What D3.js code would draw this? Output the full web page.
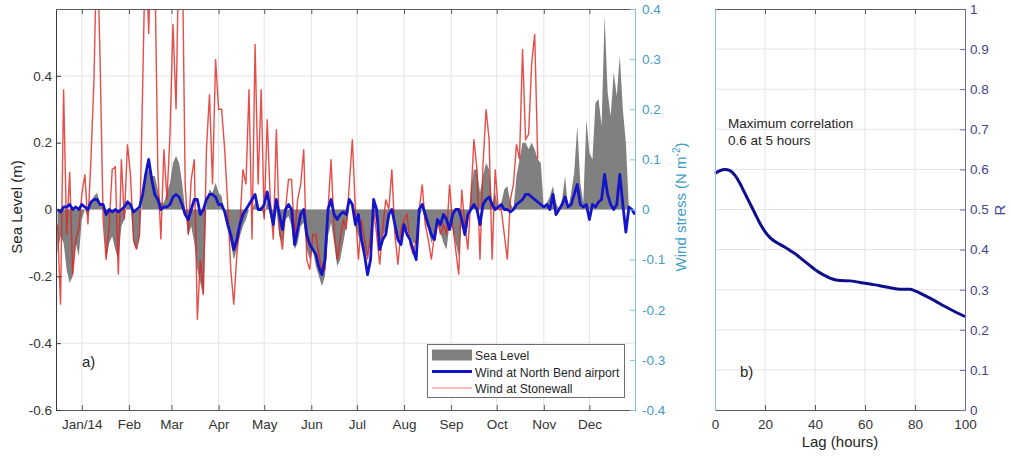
<!DOCTYPE html>
<html>
<head>
<meta charset="utf-8">
<script src="https://cdn.jsdelivr.net/npm/d3@7"></script>
<style>
  body { margin: 0; background: #fff; }
  svg { font-family: 'Liberation Sans', Arial, sans-serif; }
</style>
</head>
<body>
<div id="main"></div>
<script>
// samples every 2 days starting 16 Dec 2013
const startDay = Date.UTC(2013, 11, 16);
const stepDays = 2;

// sea level anomaly (m), left axis
const seaLevel = [
  -0.13, -0.08, -0.1, -0.18, -0.22, -0.2, -0.1, -0.14, -0.03, 0.0,
  -0.02, 0.02, 0.04, 0.05, 0.02, 0.0, -0.15, -0.1, -0.08, -0.12,
  -0.15, -0.05, -0.03, 0.03, 0.02, -0.1, -0.12, -0.08, 0.06, 0.1,
  0.12, 0.1, 0.1, 0.06, 0.02, 0.02, 0.05, 0.08, 0.14, 0.16,
  0.14, 0.08, 0.0, -0.08, -0.05, -0.1, -0.18, -0.22, -0.26, 0.02,
  0.06, 0.05, 0.08, 0.05, 0.04, -0.02, -0.06, -0.1, -0.15, -0.12,
  -0.08, -0.05, -0.03, 0.0, 0.0, 0.02, 0.0, 0.01, -0.03, 0.03,
  -0.02, -0.06, 0.0, -0.08, -0.1, -0.03, -0.02, -0.05, -0.12, -0.1,
  -0.05, -0.04, -0.12, -0.15, -0.12, -0.17, -0.2, -0.23, -0.2, -0.08,
  -0.04, -0.1, -0.17, -0.15, -0.1, -0.05, 0.0, 0.0, -0.05, -0.08,
  -0.1, -0.12, -0.14, -0.1, 0.0, -0.04, -0.1, -0.08, -0.06, -0.02,
  0.0, -0.06, -0.1, -0.08, -0.05, -0.06, -0.08, -0.1, -0.1, -0.02,
  0.0, -0.04, -0.06, -0.1, -0.08, -0.04, -0.07, -0.1, -0.12, -0.04,
  -0.06, -0.1, -0.14, -0.04, -0.08, -0.05, 0.06, 0.12, 0.12, 0.05,
  0.1, 0.14, 0.12, 0.02, 0.05, 0.0, 0.02, 0.06, 0.07, 0.02,
  0.0, 0.1, 0.15, 0.2, 0.2, 0.18, 0.2, 0.18, 0.15, 0.14,
  0.0, 0.02, 0.04, 0.07, 0.02, 0.0, 0.03, 0.1, 0.0, 0.05,
  0.11, 0.25, 0.08, 0.02, 0.27, 0.17, 0.15, 0.32, 0.33, 0.25,
  0.58, 0.35, 0.28, 0.41, 0.34, 0.46, 0.3, 0.2, 0.0
];

// wind stress (N m-2), right axis
const windNorthBend = [
  0, -0.005, 0.005, 0.005, 0.01, 0, 0.005, 0, 0.01, 0.005,
  0, 0.015, 0.02, 0.02, 0.01, 0.01, -0.01, 0, -0.005, 0,
  -0.005, 0, 0.005, 0.015, 0.01, -0.005, 0, 0.005, 0.03, 0.07,
  0.1, 0.06, 0.03, 0.02, 0, 0.005, 0.005, 0.01, 0.025, 0.03,
  0.025, 0.01, -0.01, -0.02, 0, 0.02, 0.02, -0.01, 0, 0.02,
  0.03, 0.03, 0.025, 0.01, 0.01, -0.005, -0.03, -0.05, -0.08, -0.06,
  -0.03, -0.01, 0, 0.01, 0.02, 0.03, 0, 0, 0.01, 0.035,
  0, -0.03, 0.02, -0.01, -0.04, 0, 0.01, 0, -0.07, -0.04,
  -0.01, 0, -0.05, -0.07, -0.08, -0.09, -0.115, -0.13, -0.1, 0,
  0.02, -0.01, -0.02, -0.01, -0.005, -0.01, 0.02, 0.01, -0.03, -0.01,
  -0.06, -0.09, -0.13, -0.1, 0.02, 0, -0.08, -0.06, -0.05, -0.01,
  0, -0.03, -0.06, -0.07, -0.03, -0.05, -0.06, -0.08, -0.1, 0,
  0.01, -0.01, -0.03, -0.05, -0.06, -0.02, -0.03, -0.01, -0.02, -0.04,
  -0.01, 0, 0, -0.02, -0.05, -0.01, 0, 0.01, 0, -0.03,
  0.01, 0.02, 0.025, 0.01, 0, 0.005, 0.01, 0, 0, -0.005,
  0, 0.01, 0.015, 0.02, 0.03, 0.03, 0.025, 0.02, 0.015, 0.01,
  0.005, 0.01, 0, 0.03, -0.01, 0, 0.01, 0.025, 0.005, 0.01,
  0.03, 0.05, 0.01, 0.005, 0.01, -0.02, 0.01, 0.005, 0.015, 0.02,
  0.07, 0.03, 0.01, 0, 0.01, 0.07, 0.01, -0.045, 0.005, 0, -0.01
];

const windStonewall = [
  -0.03, -0.19, 0.24, -0.05, 0.075, -0.13, -0.06, -0.04, 0.03, 0.07,
  -0.03, 0.1, 0.26, 0.55, 0.3, -0.02, -0.1, -0.03, 0.08, 0.085,
  -0.13, 0.1, -0.02, 0.13, 0.07, -0.06, -0.08, -0.05, 0.24, 0.55,
  0.35, 0.6, 0.5, 0.08, -0.06, 0.12, 0.02, 0.15, 0.37, 0.2,
  0.55, 0.55, 0.05, -0.05, 0.06, 0.1, -0.22, -0.1, -0.17, 0.12,
  0.23, 0.05, 0.3, 0.2, 0.2, 0.12, 0.01, -0.12, -0.19, -0.09,
  -0.03, 0.08, 0.05, 0.24, -0.06, 0.33, 0.05, 0.24, -0.02, 0.18,
  0.02, -0.06, 0.16, -0.04, -0.08, 0, 0.06, 0.06, -0.06, 0.02,
  0.05, 0.12, -0.1, -0.12, -0.05, -0.05, -0.09, -0.12, -0.12, 0,
  0.1, -0.04, -0.1, -0.06, -0.02, -0.04, 0.05, 0.14, 0, -0.1,
  -0.02, -0.06, -0.1, -0.05, 0, -0.05, -0.11, -0.04, 0.02, 0,
  0.08, -0.05, -0.11, -0.04, -0.02, -0.01, -0.07, -0.09, -0.06, 0,
  0.05, -0.03, -0.06, -0.1, -0.05, -0.02, -0.05, -0.03, -0.05, 0.05,
  -0.03, -0.08, -0.13, 0.04, -0.03, -0.08, 0.02, 0.14, 0.08, -0.1,
  0.09, 0.2, 0.14, -0.1, 0.08, 0, 0, -0.05, -0.1, 0.02,
  0.05, 0.13, 0.1, 0.32, 0.14, 0.15, 0.29, 0.35, 0.1
];

const monthLabels = ['Jan/14', 'Feb', 'Mar', 'Apr', 'May', 'Jun', 'Jul', 'Aug', 'Sep', 'Oct', 'Nov', 'Dec'];
const seaTicks = [-0.6, -0.4, -0.2, 0, 0.2, 0.4];
const windTicks = [-0.4, -0.3, -0.2, -0.1, 0, 0.1, 0.2, 0.3, 0.4];

// lagged correlation, panel b
const lagHours = [0, 2, 4, 6, 8, 10, 12, 14, 16, 18, 20, 22, 24, 26, 28, 30, 32, 34, 36, 38, 40,
                  42, 44, 46, 48, 50, 54, 58, 62, 66, 70, 74, 78, 80, 84, 88, 92, 96, 100];
const corrR = [0.59, 0.597, 0.6, 0.597, 0.585, 0.565, 0.54, 0.515, 0.49, 0.465, 0.445,
               0.43, 0.42, 0.413, 0.406, 0.398, 0.39, 0.38, 0.37, 0.36, 0.35,
               0.342, 0.335, 0.329, 0.325, 0.323, 0.322, 0.318, 0.314, 0.31, 0.305,
               0.301, 0.301, 0.297, 0.285, 0.272, 0.258, 0.245, 0.233];
const lagTicks = [0, 20, 40, 60, 80, 100];
const rTicks = [0, 0.1, 0.2, 0.3, 0.4, 0.5, 0.6, 0.7, 0.8, 0.9, 1];

const dayMs = 864e5;
const dateAt = (i) => new Date(startDay + i * stepDays * dayMs);
const monthDates = monthLabels.map((d, i) => new Date(Date.UTC(2014, i, 1)));

const gridColor = '#e4e4e4';
const axisColor = '#5a5a5a';
const textColor = '#333333';
const tealColor = '#3f9dc6';
const tealLine = '#84bfdc';
const navyText = '#44448a';
const navyLine = '#6a6aa6';

const pa = { left: 56, right: 635, top: 9, bottom: 410 };
const pb = { left: 715, right: 965, top: 9, bottom: 410 };

const svg = d3.select('#main')
    .append('svg')
    .attr('width', 1011)
    .attr('height', 457);

function styleAxis(g, lineColor, labelColor) {
    g.attr('font-family', null).attr('font-size', null);
    g.select('.domain').attr('stroke', lineColor);
    g.selectAll('.tick line').attr('stroke', lineColor);
    g.selectAll('.tick text').attr('fill', labelColor).style('font-size', '13.5px');
}

// ---------- panel a ----------
const x = d3.scaleUtc()
    .domain([new Date(Date.UTC(2013, 11, 15)), new Date(Date.UTC(2014, 11, 31))])
    .range([pa.left, pa.right]);
const yL = d3.scaleLinear().domain([-0.6, 0.6]).range([pa.bottom, pa.top]);
const yW = d3.scaleLinear().domain([-0.4, 0.4]).range([pa.bottom, pa.top]);

const gridA = svg.append('g');
gridA.selectAll('line.v')
    .data(monthDates)
    .enter()
    .append('line')
    .attr('x1', d => x(d)).attr('x2', d => x(d))
    .attr('y1', pa.top).attr('y2', pa.bottom)
    .attr('stroke', gridColor);
gridA.selectAll('line.h')
    .data(seaTicks.slice(1))
    .enter()
    .append('line')
    .attr('x1', pa.left).attr('x2', pa.right)
    .attr('y1', d => yL(d)).attr('y2', d => yL(d))
    .attr('stroke', gridColor);

svg.append('clipPath')
    .attr('id', 'clipA')
    .append('rect')
    .attr('x', pa.left).attr('y', pa.top)
    .attr('width', pa.right - pa.left)
    .attr('height', pa.bottom - pa.top);

const plotA = svg.append('g').attr('clip-path', 'url(#clipA)');

const seaArea = d3.area()
    .x((d, i) => x(dateAt(i)))
    .y0(yL(0))
    .y1(d => yL(d));
plotA.append('path')
    .datum(seaLevel)
    .attr('fill', '#808080')
    .attr('d', seaArea);

const windLine = d3.line()
    .x((d, i) => x(dateAt(i)))
    .y(d => yW(d));
plotA.append('path')
    .datum(windStonewall)
    .attr('fill', 'none')
    .attr('stroke', '#e0221c')
    .attr('stroke-opacity', 0.8)
    .attr('stroke-width', 1.4)
    .attr('d', windLine);
plotA.append('path')
    .datum(windNorthBend)
    .attr('fill', 'none')
    .attr('stroke', '#1414c8')
    .attr('stroke-width', 2.8)
    .attr('stroke-linejoin', 'round')
    .attr('d', windLine);

const xAxisA = svg.append('g')
    .attr('transform', `translate(0,${pa.bottom})`)
    .call(d3.axisBottom(x).tickValues(monthDates).tickFormat((d, i) => monthLabels[i])
        .tickSizeInner(-5).tickSizeOuter(0).tickPadding(9));
styleAxis(xAxisA, axisColor, textColor);

const topAxisA = svg.append('g')
    .attr('transform', `translate(0,${pa.top})`)
    .call(d3.axisTop(x).tickValues(monthDates).tickFormat('').tickSizeInner(-5).tickSizeOuter(0));
styleAxis(topAxisA, axisColor, textColor);

const yAxisA = svg.append('g')
    .attr('transform', `translate(${pa.left},0)`)
    .call(d3.axisLeft(yL).tickValues(seaTicks).tickFormat(d => String(d))
        .tickSizeInner(-5).tickSizeOuter(0).tickPadding(4));
styleAxis(yAxisA, '#3a3a3a', textColor);

const wAxisA = svg.append('g')
    .attr('transform', `translate(${pa.right},0)`)
    .call(d3.axisRight(yW).tickValues(windTicks).tickFormat(d => String(d))
        .tickSizeInner(-5).tickSizeOuter(0).tickPadding(7));
styleAxis(wAxisA, tealLine, tealColor);

svg.append('text')
    .attr('transform', 'translate(22,207) rotate(-90)')
    .attr('text-anchor', 'middle')
    .attr('fill', '#262626')
    .style('font-size', '15px')
    .text('Sea Level (m)');

const wLabel = svg.append('text')
    .attr('transform', 'translate(686,207) rotate(-90)')
    .attr('text-anchor', 'middle')
    .attr('fill', tealColor)
    .style('font-size', '15px');
wLabel.append('tspan').text('Wind stress (N m');
wLabel.append('tspan').attr('dy', -6).style('font-size', '10px').text('-2');
wLabel.append('tspan').attr('dy', 6).text(')');

svg.append('text')
    .attr('x', 82).attr('y', 367)
    .attr('fill', '#262626')
    .style('font-size', '15px')
    .text('a)');

// legend
const legend = svg.append('g');
legend.append('rect')
    .attr('x', 427.5).attr('y', 344.5)
    .attr('width', 197).attr('height', 53)
    .attr('fill', '#fff')
    .attr('stroke', '#6e6e6e');
legend.append('rect')
    .attr('x', 432).attr('y', 349.5)
    .attr('width', 40).attr('height', 11)
    .attr('fill', '#808080');
legend.append('line')
    .attr('x1', 432).attr('x2', 472)
    .attr('y1', 371.5).attr('y2', 371.5)
    .attr('stroke', '#1414c8').attr('stroke-width', 2.8);
legend.append('line')
    .attr('x1', 432).attr('x2', 472)
    .attr('y1', 388).attr('y2', 388)
    .attr('stroke', '#e0221c').attr('stroke-opacity', 0.6).attr('stroke-width', 1.2);
const legendNames = ['Sea Level', 'Wind at North Bend airport', 'Wind at Stonewall'];
legend.selectAll('text')
    .data(legendNames)
    .enter()
    .append('text')
    .attr('x', 475)
    .attr('y', (d, i) => 360 + i * 16.5)
    .attr('fill', '#262626')
    .style('font-size', '12.2px')
    .text(d => d);

// ---------- panel b ----------
const xLag = d3.scaleLinear().domain([0, 100]).range([pb.left, pb.right]);
const yR = d3.scaleLinear().domain([0, 1]).range([pb.bottom, pb.top]);

const gridB = svg.append('g');
gridB.selectAll('line.v')
    .data(lagTicks.slice(1, -1))
    .enter()
    .append('line')
    .attr('x1', d => xLag(d)).attr('x2', d => xLag(d))
    .attr('y1', pb.top).attr('y2', pb.bottom)
    .attr('stroke', gridColor);
gridB.selectAll('line.h')
    .data(rTicks.slice(1, -1))
    .enter()
    .append('line')
    .attr('x1', pb.left).attr('x2', pb.right)
    .attr('y1', d => yR(d)).attr('y2', d => yR(d))
    .attr('stroke', gridColor);

const corrLine = d3.line()
    .curve(d3.curveMonotoneX)
    .x((d, i) => xLag(lagHours[i]))
    .y(d => yR(d));
svg.append('path')
    .datum(corrR)
    .attr('fill', 'none')
    .attr('stroke', '#0e0e8c')
    .attr('stroke-width', 3)
    .attr('d', corrLine);

const xAxisB = svg.append('g')
    .attr('transform', `translate(0,${pb.bottom})`)
    .call(d3.axisBottom(xLag).tickValues(lagTicks).tickSizeInner(-5).tickSizeOuter(0).tickPadding(9));
styleAxis(xAxisB, axisColor, textColor);

const topAxisB = svg.append('g')
    .attr('transform', `translate(0,${pb.top})`)
    .call(d3.axisTop(xLag).tickValues(lagTicks).tickFormat('').tickSizeInner(-5).tickSizeOuter(0));
styleAxis(topAxisB, axisColor, textColor);

const leftAxisB = svg.append('g')
    .attr('transform', `translate(${pb.left},0)`)
    .call(d3.axisLeft(yR).tickValues([]).tickSizeOuter(0));
styleAxis(leftAxisB, tealLine, tealColor);

const rAxisB = svg.append('g')
    .attr('transform', `translate(${pb.right},0)`)
    .call(d3.axisRight(yR).tickValues(rTicks).tickFormat(d => String(+d.toFixed(1)))
        .tickSizeInner(-5).tickSizeOuter(0).tickPadding(5));
styleAxis(rAxisB, navyLine, navyText);

svg.append('text')
    .attr('transform', 'translate(1005,210) rotate(-90)')
    .attr('text-anchor', 'middle')
    .attr('fill', navyText)
    .style('font-size', '15px')
    .text('R');

svg.append('text')
    .attr('x', 840).attr('y', 447)
    .attr('text-anchor', 'middle')
    .attr('fill', '#262626')
    .style('font-size', '15px')
    .text('Lag (hours)');

svg.append('text')
    .attr('x', 728).attr('y', 128)
    .attr('fill', '#262626')
    .style('font-size', '13.5px')
    .text('Maximum correlation');
svg.append('text')
    .attr('x', 728).attr('y', 145)
    .attr('fill', '#262626')
    .style('font-size', '13.5px')
    .text('0.6 at 5 hours');

svg.append('text')
    .attr('x', 740).attr('y', 377)
    .attr('fill', '#262626')
    .style('font-size', '15px')
    .text('b)');
</script>
</body>
</html>
